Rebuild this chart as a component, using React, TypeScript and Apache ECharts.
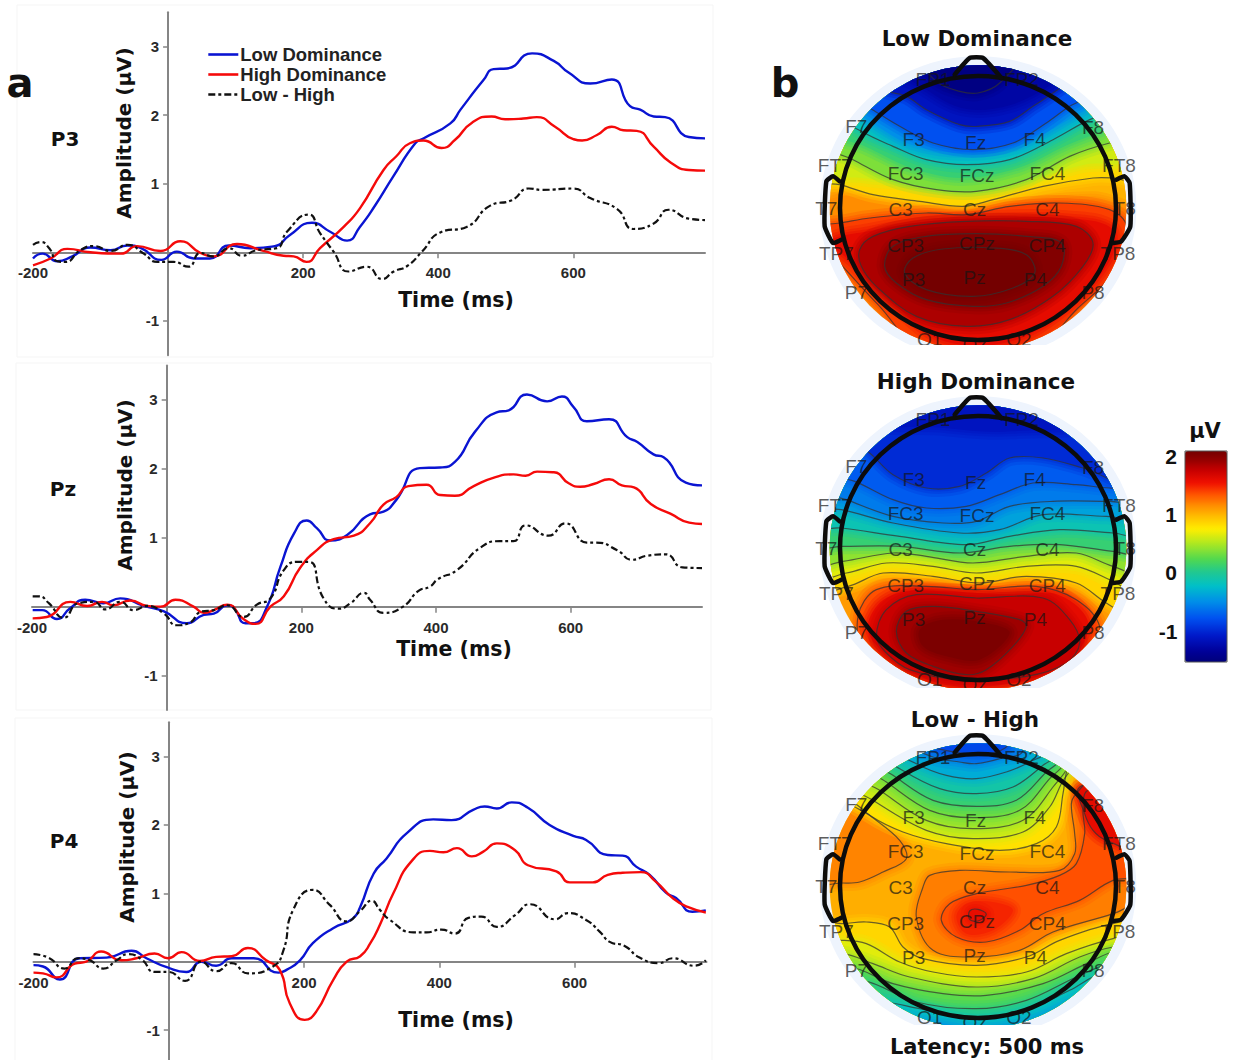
import React, { useEffect, useRef } from "react";
import * as echarts from "echarts";

type P = [number, number];
type Level = [number, 0 | 1, "top" | "bottom" | "closed", P[]];

// ---------- ERP waveforms: [time (ms), amplitude (µV)] ----------
const p3Low: P[] = [[-200,-.09],[-186,-.02],[-164,-.13],[-142,-.06],[-115,.07],[-85,.03],[-60,.1],[-40,.06],[-10,-.11],[13,.01],[38,-.09],[62,-.09],[90,.1],[122,.06],[158,.09],[180,.25],[213,.43],[240,.3],[265,.17],[284,.37],[307,.69],[333,1.1],[366,1.59],[378,1.66],[418,1.88],[433,2.08],[467,2.51],[482,2.67],[502,2.68],[539,2.9],[571,2.79],[593,2.62],[625,2.46],[657,2.52],[684,2.13],[699,2.08],[719,1.98],[736,1.97],[771,1.68],[795,1.66]];
const p3High: P[] = [[-200,-.19],[-174,-.09],[-149,.05],[-115,0],[-70,-.02],[-46,.09],[-11,.02],[18,.16],[48,-.01],[67,-.06],[102,.12],[141,.02],[171,-.05],[186,-.06],[205,-.14],[225,.06],[260,.37],[284,.64],[319,1.2],[338,1.4],[358,1.59],[378,1.63],[405,1.52],[425,1.64],[450,1.89],[479,1.98],[499,1.94],[526,1.95],[546,1.97],[573,1.83],[600,1.65],[613,1.63],[635,1.71],[657,1.83],[674,1.78],[694,1.77],[719,1.54],[744,1.31],[771,1.2],[795,1.19]];
const p3Diff: P[] = [[-200,.11],[-189,.15],[-176,.06],[-164,-.13],[-152,-.14],[-130,.03],[-110,.09],[-85,.02],[-60,.11],[-36,-.02],[-16,-.14],[8,-.14],[30,-.21],[48,-.01],[67,-.06],[90,.06],[109,-.05],[131,.03],[161,.06],[176,.3],[208,.55],[225,.28],[245,.01],[267,-.28],[294,-.21],[317,-.39],[334,-.28],[354,-.2],[376,.01],[403,.29],[442,.37],[477,.68],[509,.76],[534,.93],[554,.91],[600,.93],[625,.79],[665,.63],[689,.34],[719,.42],[741,.62],[771,.49],[795,.47]];

const pzLow: P[] = [[-199,-.05],[-185,-.05],[-163,-.18],[-143,-.02],[-121,.1],[-94,.05],[-69,.12],[-34,.01],[-4,-.07],[30,-.24],[55,-.12],[70,-.1],[90,.02],[100,-.02],[117,-.24],[129,-.24],[149,0],[169,.58],[189,1.06],[208,1.25],[223,1.14],[243,.96],[268,1.04],[302,1.34],[322,1.38],[341,1.55],[376,2.01],[406,2.02],[428,2.1],[458,2.54],[490,2.82],[508,2.85],[535,3.08],[565,2.98],[587,3.05],[604,2.9],[624,2.69],[657,2.72],[684,2.46],[699,2.39],[723,2.21],[738,2.17],[771,1.8],[795,1.76]];
const pzHigh: P[] = [[-199,-.17],[-178,-.15],[-143,.07],[-118,.01],[-96,.07],[-79,.02],[-54,.09],[-29,.01],[-9,0],[13,.1],[40,0],[55,-.09],[70,-.05],[90,.03],[114,-.18],[132,-.25],[154,0],[174,.15],[198,.56],[223,.82],[248,.98],[278,1.03],[302,1.21],[322,1.48],[341,1.59],[359,1.75],[386,1.77],[406,1.62],[428,1.61],[456,1.75],[485,1.87],[515,1.92],[533,1.9],[550,1.96],[575,1.95],[597,1.79],[614,1.74],[634,1.78],[657,1.85],[676,1.76],[694,1.73],[719,1.49],[748,1.35],[776,1.22],[795,1.2]];
const pzDiff: P[] = [[-199,.15],[-190,.15],[-175,.05],[-153,-.16],[-131,.05],[-108,.07],[-91,-.04],[-69,.07],[-49,-.05],[-29,.01],[-4,-.1],[15,-.27],[33,-.24],[52,-.07],[70,-.05],[90,.02],[114,-.15],[134,.03],[154,.12],[174,.53],[194,.65],[211,.65],[233,.12],[255,-.03],[273,.05],[293,.2],[302,.1],[322,-.09],[351,0],[374,.23],[391,.29],[403,.4],[431,.53],[465,.85],[495,.95],[515,.95],[533,1.18],[567,1.03],[592,1.21],[624,.93],[637,.93],[669,.82],[691,.68],[714,.74],[741,.76],[766,.57],[795,.56]];

const p4Low: P[] = [[-200,-.05],[-186,-.07],[-161,-.26],[-132,.05],[-92,.06],[-55,.16],[-33,.05],[-3,-.08],[26,-.15],[48,0],[70,-.06],[93,.05],[125,.05],[162,-.16],[174,-.12],[194,.02],[213,.27],[243,.49],[272,.63],[283,.8],[303,1.29],[322,1.51],[352,1.88],[391,2.08],[418,2.07],[450,2.22],[467,2.27],[485,2.24],[507,2.33],[531,2.25],[563,2],[598,1.84],[617,1.78],[649,1.56],[671,1.55],[691,1.39],[711,1.27],[735,1.01],[750,.93],[774,.73],[794,.75]];
const p4High: P[] = [[-200,-.16],[-186,-.17],[-166,-.23],[-139,-.03],[-122,0],[-100,.15],[-70,.02],[-48,.05],[-21,.12],[-1,.05],[19,.14],[46,.01],[70,.07],[93,.08],[117,.2],[144,.02],[164,-.12],[179,-.61],[201,-.85],[218,-.73],[243,-.27],[263,0],[283,.08],[298,.27],[313,.56],[332,1],[359,1.47],[386,1.62],[406,1.6],[426,1.66],[448,1.54],[465,1.61],[485,1.73],[512,1.63],[531,1.41],[573,1.32],[593,1.16],[607,1.16],[627,1.16],[649,1.27],[671,1.3],[698,1.31],[720,1.17],[745,.93],[767,.8],[794,.72]];
const p4Diff: P[] = [[-200,.11],[-178,.06],[-154,-.1],[-134,.05],[-117,.02],[-97,-.1],[-77,.02],[-60,.11],[-40,.03],[-21,-.15],[-1,-.15],[24,-.28],[48,0],[70,-.14],[93,-.02],[117,-.17],[154,-.07],[169,.15],[184,.76],[213,1.05],[238,.83],[263,.59],[283,.74],[300,.89],[312,.76],[327,.61],[362,.43],[381,.43],[403,.47],[423,.41],[443,.64],[462,.66],[485,.51],[512,.68],[534,.84],[571,.62],[590,.71],[617,.61],[637,.44],[652,.29],[674,.23],[696,.06],[725,-.02],[745,.05],[777,-.06],[794,.02]];

const xTickValues = [-200, 200, 400, 600];
const yTickValues = [-1, 1, 2, 3];
const seriesNames = ["Low Dominance", "High Dominance", "Low - High"];
const channelNames = ["P3", "Pz", "P4"];
const mapTitles = ["Low Dominance", "High Dominance", "Low - High"];

// ---------- colour scale ----------
const colorStops: [number, string][] = [[-1.55,"#00007a"],[-1.37,"#000098"],[-1.1,"#0018c8"],[-.8,"#0050f0"],[-.5,"#0090e8"],[-.24,"#00c0c8"],[0,"#20c890"],[.22,"#50d850"],[.5,"#b0e820"],[.74,"#ffee00"],[.95,"#ffc000"],[1.14,"#ff9000"],[1.35,"#ff5000"],[1.54,"#f01000"],[1.75,"#c80000"],[1.95,"#900000"],[2.09,"#740000"]];
const barTicks = [2, 1, 0, -1];

// ---------- electrodes, head-relative ----------
const electrodes: [string, number, number][] = [["FP1",-135,385],["FP2",130,385],["F7",-365,245],["F3",-193,205],["Fz",-7,197],["F4",170,205],["F8",345,243],["FT7",-430,128],["FC3",-217,103],["FCz",-3,97],["FC4",208,103],["FT8",423,128],["T7",-455,-2],["C3",-232,-3],["Cz",-10,-3],["C4",208,-3],["T8",440,-2],["TP7",-425,-137],["CP3",-217,-112],["CPz",-3,-105],["CP4",208,-112],["TP8",420,-137],["P7",-365,-253],["P3",-193,-213],["Pz",-10,-207],["P4",172,-213],["P8",345,-253],["O1",-145,-395],["Oz",-10,-408],["O2",123,-395]];
const noseLine: P[] = [[-70,400],[-25,450],[15,450],[70,390]];
const leftEar: P[] = [[-415,80],[-435,95],[-455,80],[-460,-55],[-435,-105],[-410,-95]];
const rightEar: P[] = [[415,85],[440,95],[455,75],[457,-55],[430,-100],[405,-105]];

// ---------- topographies: iso-amplitude regions [µV, contour?, closure, outline] ----------
const lowDomLevels: Level[] = [
  [1.15,0,"closed",[[-700,-700],[700,-700],[700,700],[-700,700]]],
  [1.0,0,"top",[[-520,50],[-400,60],[-150,30],[-10,15],[150,35],[350,50],[520,30]]],
  [.85,1,"top",[[-520,90],[-415,70],[-315,40],[-175,20],[-45,5],[45,25],[195,65],[345,90],[405,90],[520,80]]],
  [.6,0,"top",[[-520,120],[-350,90],[-150,70],[0,60],[170,90],[320,130],[520,160]]],
  [.35,1,"top",[[-520,220],[-375,145],[-255,85],[-125,55],[-5,50],[145,85],[275,155],[395,195],[520,220]]],
  [.1,0,"top",[[-520,260],[-340,185],[-200,120],[-50,90],[120,120],[270,190],[400,240],[520,290]]],
  [-.2,1,"top",[[-520,340],[-350,230],[-255,185],[-155,145],[-35,130],[95,145],[225,205],[335,265],[520,340]]],
  [-.5,0,"top",[[-520,390],[-340,270],[-200,190],[-30,165],[130,190],[280,270],[400,340],[520,420]]],
  [-.8,1,"top",[[-520,420],[-325,300],[-235,245],[-135,195],[-15,175],[105,195],[205,255],[275,305],[315,325],[500,450]]],
  [-1.15,1,"top",[[-500,480],[-305,360],[-215,335],[-155,295],[-55,250],[0,245],[95,260],[165,305],[225,345],[400,480]]],
  [-1.3,0,"top",[[-450,480],[-200,380],[-50,300],[100,310],[250,390],[400,500]]],
  [-1.5,1,"top",[[-220,500],[-125,380],[-55,350],[0,345],[65,375],[160,500]]],
  [1.4,1,"closed",[[-520,-60],[-415,-45],[-325,-30],[-155,-15],[-35,-20],[95,5],[245,15],[395,-5],[445,-55],[400,-200],[300,-300],[150,-440],[-150,-440],[-300,-290],[-430,-150]]],
  [1.6,0,"closed",[[-440,-100],[-330,-70],[-150,-40],[50,-30],[250,-30],[400,-60],[400,-150],[270,-300],[100,-400],[-100,-400],[-250,-290],[-370,-170]]],
  [1.85,1,"closed",[[-355,-125],[-315,-85],[-205,-55],[-35,-40],[145,-40],[295,-55],[345,-105],[315,-175],[225,-265],[95,-335],[-35,-355],[-185,-325],[-305,-235],[-350,-175]]],
  [2.02,1,"closed",[[-280,-175],[-255,-115],[-155,-85],[-5,-77],[145,-85],[250,-105],[250,-175],[195,-235],[85,-285],[-15,-295],[-155,-275],[-245,-225]]],
  [2.09,1,"closed",[[-220,-195],[-195,-150],[-105,-123],[45,-120],[145,-140],[170,-195],[105,-240],[-15,-265],[-155,-245]]],
];

const highDomLevels: Level[] = [
  [1.1,0,"closed",[[-700,-700],[700,-700],[700,700],[-700,700]]],
  [.85,1,"top",[[-520,-130],[-390,-115],[-285,-75],[-135,-85],[5,-105],[145,-85],[295,-105],[385,-165],[520,-230]]],
  [.65,1,"top",[[-520,-90],[-395,-75],[-275,-45],[-135,-55],[-5,-75],[145,-55],[295,-55],[405,-100],[520,-150]]],
  [.4,1,"top",[[-520,-50],[-405,-40],[-255,-15],[-155,-25],[-15,-45],[145,-25],[295,-15],[405,-55],[520,-80]]],
  [.1,1,"top",[[-520,5],[-410,5],[-235,5],[-55,-15],[95,5],[245,10],[405,-10],[520,-15]]],
  [-.15,1,"top",[[-520,70],[-410,60],[-235,35],[-35,10],[95,35],[245,55],[405,45],[520,40]]],
  [-.4,1,"top",[[-520,130],[-410,115],[-255,75],[-55,45],[65,55],[195,100],[385,95],[520,95]]],
  [-.6,1,"top",[[-520,190],[-395,145],[-255,95],[-105,75],[-5,80],[95,125],[225,140],[395,140],[520,140]]],
  [-.75,1,"top",[[-520,250],[-370,200],[-255,145],[-155,120],[-35,125],[65,160],[165,195],[295,190],[395,180],[520,180]]],
  [-1.0,1,"top",[[-480,400],[-325,285],[-255,220],[-155,180],[-55,185],[25,225],[95,270],[195,270],[315,240],[520,180]]],
  [-1.15,0,"top",[[-400,400],[-100,360],[100,350],[400,400]]],
  [1.35,1,"closed",[[-360,-205],[-305,-125],[-155,-115],[-5,-125],[175,-115],[295,-155],[365,-235],[340,-320],[200,-400],[0,-440],[-200,-400],[-340,-310]]],
  [1.6,0,"closed",[[-300,-170],[-220,-130],[-100,-130],[100,-140],[240,-140],[330,-220],[290,-320],[130,-400],[-100,-410],[-260,-330],[-330,-250]]],
  [1.75,1,"closed",[[-305,-265],[-275,-185],[-185,-140],[-5,-150],[195,-150],[275,-215],[305,-285],[265,-345],[145,-385],[-55,-395],[-205,-365],[-275,-315]]],
  [1.9,1,"closed",[[-245,-250],[-215,-190],[-135,-175],[-5,-190],[125,-215],[145,-235],[105,-295],[25,-365],[-35,-380],[-135,-355],[-215,-315]]],
  [2.05,0,"closed",[[-175,-245],[-105,-215],[25,-225],[95,-255],[5,-335],[-95,-325],[-165,-295]]],
];

const diffLevels: Level[] = [
  [1.02,0,"closed",[[-700,-700],[700,-700],[700,700],[-700,700]]],
  [1.18,1,"closed",[[-520,10],[-410,9],[-355,12],[-285,42],[-215,82],[-235,137],[-325,212],[-385,257],[-520,300]]],
  [1.2,1,"closed",[[-185,-93],[-165,-3],[-145,32],[-55,47],[95,42],[245,47],[290,97],[290,157],[280,247],[295,277],[345,320],[520,300],[520,20],[445,-63],[405,-83],[225,-138],[125,-193],[-15,-213],[-135,-193]]],
  [1.35,1,"closed",[[-110,-103],[-85,-53],[-5,-23],[145,2],[245,32],[295,67],[320,157],[315,227],[330,287],[520,320],[520,40],[405,17],[305,-43],[195,-83],[125,-133],[25,-168],[-65,-153]]],
  [1.6,1,"closed",[[320,217],[345,167],[385,137],[520,100],[520,350],[305,297]]],
  [1.48,0,"closed",[[-65,-93],[-35,-53],[45,-48],[105,-73],[45,-133],[-35,-143]]],
  [1.58,1,"closed",[[-25,-75],[0,-70],[25,-85],[0,-105],[-25,-100]]],
  [.8,1,"top",[[-420,290],[-325,212],[-225,162],[-95,127],[65,107],[175,127],[235,177],[255,277],[270,357],[305,410]]],
  [.6,1,"top",[[-400,320],[-315,257],[-155,167],[-15,142],[135,162],[215,237],[250,307],[295,387]]],
  [.45,1,"top",[[-390,350],[-295,287],[-155,197],[-15,172],[135,197],[225,297],[275,377]]],
  [.3,1,"top",[[-370,380],[-275,312],[-145,227],[-15,205],[125,227],[215,322],[265,382]]],
  [.1,1,"top",[[-350,400],[-255,332],[-135,257],[-5,239],[115,257],[205,342],[255,392]]],
  [-.1,1,"top",[[-330,420],[-235,352],[-115,292],[-5,277],[105,297],[195,362],[245,407]]],
  [-.35,1,"top",[[-280,430],[-185,367],[-95,332],[-5,322],[85,342],[155,372],[205,407]]],
  [-.6,1,"top",[[-220,440],[-135,387],[-55,372],[-5,367],[65,382],[135,407]]],
  [-.85,1,"top",[[-160,440],[-60,400],[50,400],[100,440]]],
  [.85,1,"bottom",[[-520,-110],[-410,-113],[-335,-108],[-265,-123],[-225,-183],[-165,-218],[-5,-238],[145,-213],[245,-163],[405,-113],[520,-110]]],
  [.65,1,"bottom",[[-520,-165],[-410,-163],[-335,-173],[-235,-228],[-135,-258],[-5,-273],[145,-258],[265,-203],[405,-158],[520,-140]]],
  [.45,1,"bottom",[[-520,-210],[-405,-203],[-315,-233],[-205,-273],[-5,-303],[165,-278],[305,-213],[405,-183],[520,-170]]],
  [.25,1,"bottom",[[-520,-260],[-385,-243],[-255,-293],[-105,-323],[25,-328],[195,-293],[325,-233],[405,-198],[520,-190]]],
  [.05,1,"bottom",[[-500,-290],[-345,-283],[-185,-348],[-5,-368],[145,-343],[295,-273],[395,-233],[520,-220]]],
  [-.2,1,"bottom",[[-450,-330],[-275,-348],[-175,-368],[-5,-398],[145,-373],[275,-313],[375,-263],[500,-280]]],
  [-.45,0,"bottom",[[-300,-400],[-150,-405],[0,-425],[150,-405],[300,-340],[450,-290]]],
];

// ---------- layout ----------
const plotFrames = [
  { left: 33, top: 12.2, w: 672, h: 343, yMin: -1.5, box: [17, 5, 696, 352], time: [456, 300], amp: [124, 133], ch: [65, 139] },
  { left: 32, top: 365.5, w: 670, h: 344.5, yMin: -1.5, box: [16, 363, 695, 347], time: [454, 649], amp: [125, 485], ch: [63, 489] },
  { left: 33.5, top: 722.3, w: 673, h: 337.2, yMin: -1.43, box: [15, 718, 697, 345], time: [456, 1020], amp: [127, 837], ch: [64, 841] },
];
const mapFrames = [
  { cx: 978, cy: 208, cut: 345, title: [977, 38] },
  { cx: 978, cy: 548, cut: 688, title: [976, 381] },
  { cx: 978, cy: 886, cut: 1025, title: [975, 719] },
];
const lineColors = ["#0a14d2", "#f50a0a", "#111111"];
const SANS = "'Liberation Sans', Arial, sans-serif";
const DEJAVU = "'DejaVu Sans', sans-serif";

function colorOf(v: number): string {
  if (v <= colorStops[0][0]) return colorStops[0][1];
  for (let i = 1; i < colorStops.length; i++) {
    if (v <= colorStops[i][0]) {
      const [a, ca] = colorStops[i - 1];
      const [b, cb] = colorStops[i];
      return echarts.color.lerp((v - a) / (b - a), [ca, cb]) as string;
    }
  }
  return colorStops[colorStops.length - 1][1];
}

function outline(l: Level): P[] {
  const pts = l[3];
  const first = pts[0];
  const last = pts[pts.length - 1];
  if (l[2] === "top") return [...pts, [last[0], 660], [first[0], 660]];
  if (l[2] === "bottom") return [...pts, [last[0], -660], [first[0], -660]];
  return pts;
}

function label(text: string, x: number, y: number, size: number, family = DEJAVU, extra: any = {}) {
  return {
    type: "text", x, y, z: 120, silent: true, ...extra,
    style: { text, fontSize: size, fontWeight: "bold", fontFamily: family, fill: "#111", textAlign: "center", textVerticalAlign: "middle" },
  };
}

function buildOption() {
  const grid: any[] = [];
  const xAxis: any[] = [];
  const yAxis: any[] = [];
  const series: any[] = [];
  const graphic: any[] = [];
  const data = [[p3Low, p3High, p3Diff], [pzLow, pzHigh, pzDiff], [p4Low, p4High, p4Diff]];
  const axisLine = { show: true, onZero: true, lineStyle: { color: "#858585", width: 2 } };
  const tickStyle = { color: "#858585", width: 1.5 };
  const tickFont = { fontFamily: SANS, fontWeight: "bold", fontSize: 15, color: "#2a2a2a" };

  plotFrames.forEach((f, i) => {
    const zeroToBottom = (f.h * -f.yMin) / (3.5 - f.yMin);
    grid.push({ left: f.left, top: f.top, width: f.w, height: f.h, containLabel: false });
    xAxis.push({
      type: "value", gridIndex: i, min: -200, max: 795, splitLine: { show: false }, axisLine,
      axisTick: { show: true, length: 6, lineStyle: tickStyle, customValues: [200, 400, 600] },
      axisLabel: { ...tickFont, margin: -(zeroToBottom - 13), customValues: xTickValues, formatter: (v: number) => String(v) },
    });
    yAxis.push({
      type: "value", gridIndex: i, min: f.yMin, max: 3.5, splitLine: { show: false }, axisLine,
      axisTick: { show: true, length: 5, lineStyle: tickStyle, customValues: yTickValues },
      axisLabel: { ...tickFont, margin: -((200 / 995) * f.w - 9), customValues: yTickValues, formatter: (v: number) => String(v) },
    });
    data[i].forEach((pts, s) => {
      series.push({
        type: "line", name: seriesNames[s], xAxisIndex: i, yAxisIndex: i, data: pts, smooth: 0.55,
        symbol: "none", z: 3,
        lineStyle: { color: lineColors[s], width: s === 2 ? 2.2 : 2.4, type: s === 2 ? [7, 3, 3, 3] : "solid" },
        itemStyle: { color: lineColors[s] },
      });
    });
    graphic.push({ type: "rect", z: 0, silent: true, shape: { x: f.box[0], y: f.box[1], width: f.box[2], height: f.box[3] }, style: { fill: "none", stroke: "#f5f5f5", lineWidth: 1 } });
    graphic.push(label("Time (ms)", f.time[0], f.time[1], 20.5));
    graphic.push(label("Amplitude (µV)", f.amp[0], f.amp[1], 20, DEJAVU, { rotation: Math.PI / 2 }));
    graphic.push(label(channelNames[i], f.ch[0], f.ch[1], 20));
  });

  const levelSets = [lowDomLevels, highDomLevels, diffLevels];
  const customIdx: number[] = [];
  mapFrames.forEach((m, k) => {
    const idx = 3 + k;
    grid.push({ left: m.cx - 500 / 3, top: m.cy - 500 / 3, width: 1000 / 3, height: 1000 / 3 });
    xAxis.push({ type: "value", gridIndex: idx, min: -500, max: 500, show: false });
    yAxis.push({ type: "value", gridIndex: idx, min: -500, max: 500, show: false });
    const levels = levelSets[k];
    const contours = levels.filter((l) => l[1]);
    const headClip = (api: any) => {
      const c = api.coord([0, 0]);
      const s = api.size([1, 1]);
      return { type: "ellipse", shape: { cx: c[0], cy: c[1], rx: 445 * s[0], ry: 428 * s[1] } };
    };
    series.push({
      type: "custom", xAxisIndex: idx, yAxisIndex: idx, clip: false, silent: true, z: 2, data: [[0, 0]],
      renderItem: (_p: any, api: any) => {
        const c = api.coord([0, 0]);
        const s = api.size([1, 1]);
        return { type: "ellipse", shape: { cx: c[0], cy: c[1], rx: 475 * s[0], ry: 455 * s[1] }, style: { fill: "#eef4fd", stroke: "none" } };
      },
    });
    // filled bands; the translucent strokes soften each band edge into the next one
    customIdx.push(series.length);
    series.push({
      type: "custom", xAxisIndex: idx, yAxisIndex: idx, clip: false, silent: true, z: 3,
      data: levels.map((l) => [l[0], 0]),
      renderItem: (p: any, api: any) => {
        const l = levels[p.dataIndex];
        const points = outline(l).map((q) => api.coord(q));
        const fill = colorOf(l[0]);
        const soft = (w: number, o: number) => ({ type: "polygon", shape: { points, smooth: 0.35 }, style: { fill: "none", stroke: fill, lineWidth: w, opacity: o } });
        return {
          type: "group",
          clipPath: headClip(api),
          children: [
            soft(16, 0.22),
            soft(10, 0.3),
            soft(5, 0.4),
            { type: "polygon", shape: { points, smooth: 0.35 }, style: { fill, stroke: "none" } },
          ],
        };
      },
    });
    // contour lines above every band
    series.push({
      type: "custom", xAxisIndex: idx, yAxisIndex: idx, clip: false, silent: true, z: 3,
      data: contours.map((l) => [l[0], 0]),
      renderItem: (p: any, api: any) => ({
        type: "polygon",
        shape: { points: outline(contours[p.dataIndex]).map((q) => api.coord(q)), smooth: 0.35 },
        style: { fill: "none", stroke: "rgba(50,50,50,0.72)", lineWidth: 1.2 },
        clipPath: headClip(api),
      }),
    });
    series.push({
      type: "scatter", xAxisIndex: idx, yAxisIndex: idx, silent: true, z: 4, symbolSize: 1,
      itemStyle: { color: "transparent" },
      data: electrodes.map((e) => ({ name: e[0], value: [e[1], e[2]] })),
      label: { show: true, position: "inside", formatter: "{b}", fontFamily: SANS, fontSize: 19, color: "rgba(20,20,20,0.88)" },
    });
    series.push({
      type: "custom", xAxisIndex: idx, yAxisIndex: idx, clip: false, silent: true, z: 5, data: [[0, 0]],
      renderItem: (_p: any, api: any) => {
        const c = api.coord([0, 0]);
        const s = api.size([1, 1]);
        const stroke = { stroke: "#0c0c0c", lineWidth: 4.5, fill: "none", lineJoin: "round", lineCap: "round" };
        const poly = (pts: P[], smooth: number) => ({ type: "polyline", shape: { points: pts.map((q) => api.coord(q)), smooth }, style: stroke });
        return {
          type: "group",
          children: [
            { type: "ellipse", shape: { cx: c[0], cy: c[1], rx: 414 * s[0], ry: 396 * s[1] }, style: stroke },
            poly(noseLine, 0.15),
            poly(leftEar, 0.15),
            poly(rightEar, 0.15),
          ],
        };
      },
    });
    graphic.push({ type: "rect", z: 100, silent: true, shape: { x: m.cx - 170, y: m.cut, width: 340, height: 20 }, style: { fill: "#ffffff" } });
    graphic.push(label(mapTitles[k], m.title[0], m.title[1], 21.5));
  });

  graphic.push(label("a", 20, 83, 40));
  graphic.push(label("b", 785, 83, 40));
  graphic.push(label("Latency: 500 ms", 987, 1047, 21));
  graphic.push(label("µV", 1205, 431, 21));
  const tickY = [456, 514, 572, 631];
  barTicks.forEach((t, i) => graphic.push(label(String(t), t < 0 ? 1168 : 1171, tickY[i], 21, SANS)));
  graphic.push({ type: "rect", z: 110, silent: true, shape: { x: 1185, y: 451, width: 42, height: 211 }, style: { fill: "none", stroke: "#555", lineWidth: 1 } });

  const barMin = -1.55;
  const barMax = 2.09;
  const barColors: string[] = [];
  for (let i = 0; i <= 72; i++) barColors.push(colorOf(barMin + ((barMax - barMin) * i) / 72));

  return {
    animation: false,
    backgroundColor: "#ffffff",
    grid, xAxis, yAxis, series, graphic,
    legend: {
      data: seriesNames, orient: "vertical", left: 207, top: 45, padding: 0, itemWidth: 30, itemHeight: 14, itemGap: 1,
      itemStyle: { color: "transparent", opacity: 0, borderWidth: 0 },
      lineStyle: { width: 2.6 },
      textStyle: { fontFamily: SANS, fontWeight: "bold", fontSize: 18.5, lineHeight: 14, color: "#222", padding: [0, 0, 0, -3] },
      selectedMode: false,
    },
    visualMap: {
      type: "continuous", min: barMin, max: barMax, orient: "vertical", left: 1185, top: 451, padding: 0,
      itemWidth: 42, itemHeight: 211, calculable: false, text: null, seriesIndex: customIdx, dimension: 0,
      inRange: { color: barColors }, silent: true, hoverLink: false,
    },
  };
}

export default function App() {
  const ref = useRef<HTMLDivElement>(null);
  useEffect(() => {
    document.body.style.margin = "0";
    const chart = echarts.init(ref.current!, undefined, { renderer: "svg" });
    chart.setOption(buildOption() as any);
    return () => chart.dispose();
  }, []);
  return <div ref={ref} style={{ width: 1237, height: 1060, background: "#fff" }} />;
}
